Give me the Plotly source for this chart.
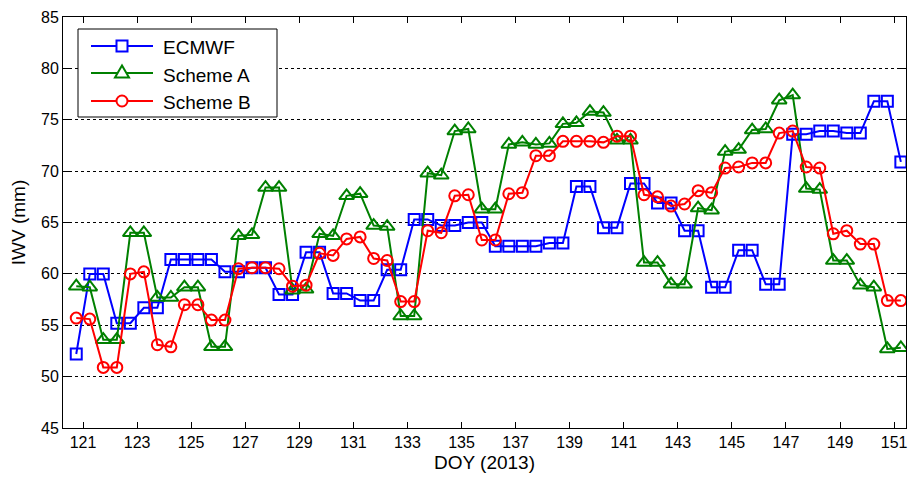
import plotly.graph_objects as go

doy = [120.75, 121.25, 121.75, 122.25, 122.75, 123.25, 123.75, 124.25, 124.75, 125.25,
       125.75, 126.25, 126.75, 127.25, 127.75, 128.25, 128.75, 129.25, 129.75, 130.25,
       130.75, 131.25, 131.75, 132.25, 132.75, 133.25, 133.75, 134.25, 134.75, 135.25,
       135.75, 136.25, 136.75, 137.25, 137.75, 138.25, 138.75, 139.25, 139.75, 140.25,
       140.75, 141.25, 141.75, 142.25, 142.75, 143.25, 143.75, 144.25, 144.75, 145.25,
       145.75, 146.25, 146.75, 147.25, 147.75, 148.25, 148.75, 149.25, 149.75, 150.25,
       150.75, 151.25]

ecmwf = [52.2, 60.0, 60.0, 55.2, 55.2, 56.7, 56.7, 61.4, 61.4, 61.4,
         61.4, 60.2, 60.2, 60.6, 60.6, 58.0, 58.0, 62.1, 62.1, 58.1,
         58.1, 57.4, 57.4, 60.4, 60.4, 65.3, 65.3, 64.7, 64.7, 65.0,
         65.0, 62.7, 62.7, 62.7, 62.7, 63.0, 63.0, 68.5, 68.5, 64.5,
         64.5, 68.8, 68.8, 66.9, 66.9, 64.2, 64.2, 58.7, 58.7, 62.3,
         62.3, 59.0, 59.0, 73.6, 73.6, 73.9, 73.9, 73.7, 73.7, 76.8,
         76.8, 70.9]

scheme_a = [58.8, 58.7, 53.6, 53.6, 64.0, 64.0, 57.7, 57.7, 58.7, 58.7,
            52.9, 52.9, 63.7, 63.8, 68.4, 68.4, 58.4, 58.5, 63.9, 63.7,
            67.6, 67.8, 64.7, 64.6, 55.9, 55.9, 69.8, 69.6, 73.9, 74.1,
            66.3, 66.3, 72.6, 72.8, 72.6, 72.7, 74.6, 74.7, 75.8, 75.7,
            73.0, 73.0, 61.1, 61.1, 59.0, 59.0, 66.4, 66.2, 71.9, 72.1,
            74.0, 74.1, 76.9, 77.4, 68.3, 68.2, 61.3, 61.3, 58.9, 58.7,
            52.7, 52.8]

scheme_b = [55.7, 55.6, 50.9, 50.9, 60.0, 60.2, 53.1, 52.9, 57.0, 57.0,
            55.5, 55.5, 60.5, 60.6, 60.6, 60.5, 58.8, 58.9, 62.0, 61.8,
            63.4, 63.6, 61.5, 61.3, 57.3, 57.3, 64.2, 64.0, 67.6, 67.7,
            63.3, 63.3, 67.8, 67.9, 71.5, 71.5, 72.9, 72.9, 72.9, 72.8,
            73.4, 73.4, 67.7, 67.5, 66.6, 66.8, 68.1, 67.9, 70.3, 70.4,
            70.8, 70.8, 73.7, 73.9, 70.4, 70.3, 63.9, 64.2, 62.9, 62.9,
            57.4, 57.4]

x_ticks = [121, 123, 125, 127, 129, 131, 133, 135, 137, 139, 141, 143, 145, 147, 149, 151]
y_ticks = [45, 50, 55, 60, 65, 70, 75, 80, 85]

series_names = ["ECMWF", "Scheme A", "Scheme B"]
series_colors = ["#0000ff", "#008000", "#ff0000"]
series_symbols = ["square-open", "triangle-up-open", "circle-open"]
series_values = [ecmwf, scheme_a, scheme_b]

W, H = 909, 478
L, R, T, B = 63, 3, 17, 50
PW, PH = W - L - R, H - T - B

fig = go.Figure()
for name, vals, color, sym in zip(series_names, series_values, series_colors, series_symbols):
    size = 13 if sym.startswith("triangle") else 11
    fig.add_trace(go.Scatter(
        x=doy, y=vals, name=name, mode="lines+markers", showlegend=False,
        line=dict(color=color, width=2),
        marker=dict(symbol=sym, size=size, color=color, line=dict(color=color, width=2)),
    ))


def px_x(px):
    return (px - L) / PW


def px_y(py):
    return 1 - (py - T) / PH


font_family = "Liberation Sans, Arial, sans-serif"

# custom legend (box, line samples, marker samples, labels)
shapes = [dict(type="rect", xref="paper", yref="paper",
               x0=px_x(78), x1=px_x(277), y0=px_y(117), y1=px_y(29),
               line=dict(color="black", width=1), fillcolor="white", layer="above")]
annotations = []
row_line_y = [46, 73, 101]
row_text_y = [47.5, 75, 102.5]
mx = px_x(122)
for i, (name, color, sym) in enumerate(zip(series_names, series_colors, series_symbols)):
    ly = px_y(row_line_y[i])
    shapes.append(dict(type="line", xref="paper", yref="paper",
                       x0=px_x(91), x1=px_x(153), y0=ly, y1=ly,
                       line=dict(color=color, width=2), layer="above"))
    common = dict(xref="paper", yref="paper", xsizemode="pixel", ysizemode="pixel",
                  xanchor=mx, yanchor=ly, line=dict(color=color, width=2),
                  fillcolor="white", layer="above")
    if sym.startswith("square"):
        shapes.append(dict(type="rect", x0=-5.5, x1=5.5, y0=-5.5, y1=5.5, **common))
    elif sym.startswith("circle"):
        shapes.append(dict(type="circle", x0=-5.5, x1=5.5, y0=-5.5, y1=5.5, **common))
    else:
        shapes.append(dict(type="path", path="M-7,-4.5 L7,-4.5 L0,7.5 Z", **common))
    annotations.append(dict(text=name, xref="paper", yref="paper",
                            x=px_x(161), y=px_y(row_text_y[i]),
                            xanchor="left", yanchor="middle", showarrow=False,
                            font=dict(size=19, family=font_family, color="black")))

fig.update_layout(
    width=W, height=H,
    margin=dict(l=L, r=R, t=T, b=B),
    paper_bgcolor="white", plot_bgcolor="white",
    font=dict(family=font_family, color="black"),
    showlegend=False,
    shapes=shapes,
    annotations=annotations,
    xaxis=dict(
        range=[120.26, 151.44], tickvals=x_ticks, ticktext=[str(t) for t in x_ticks],
        showgrid=False, zeroline=False, showline=True, linecolor="black", linewidth=1,
        mirror="ticks", ticks="inside", ticklen=6, tickcolor="black",
        tickfont=dict(size=16), automargin=False,
        title=dict(text="DOY (2013)", font=dict(size=19), standoff=5),
    ),
    yaxis=dict(
        range=[45, 85], tickvals=y_ticks, ticktext=[str(t) for t in y_ticks],
        showgrid=True, gridcolor="black", gridwidth=1, griddash="3px,3px",
        zeroline=False, showline=True, linecolor="black", linewidth=1,
        mirror="ticks", ticks="inside", ticklen=6, tickcolor="black",
        tickfont=dict(size=16), automargin=False,
        title=dict(text="IWV (mm)", font=dict(size=19), standoff=10),
    ),
)

fig.write_html("out.html",
               config={"displayModeBar": False},
               post_script="document.body.style.margin='0';document.body.style.overflow='hidden';")
